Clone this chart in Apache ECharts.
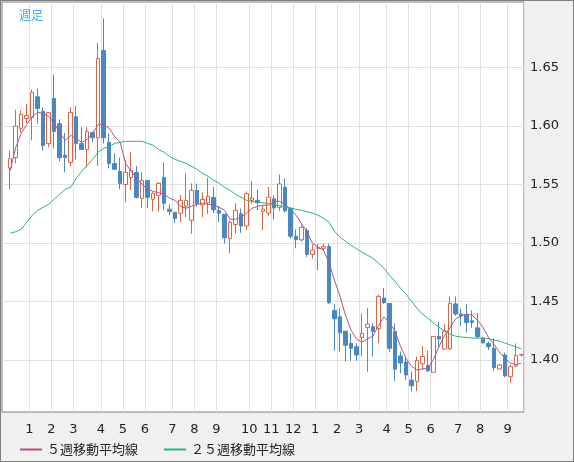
<!DOCTYPE html>
<html><head><meta charset="utf-8">
<script src="https://cdn.jsdelivr.net/npm/echarts@6/dist/echarts.min.js"></script>
<style>html,body{margin:0;padding:0;background:#f0f0f0}
#c{width:572px;height:460px;border:1px solid #808080;background:#f0f0f0}</style>
</head><body><div id="c"></div>
<script>
// [open, close, low, high]
const candles = [
[1.564,1.572,1.546,1.579],[1.573,1.600,1.568,1.614],[1.598,1.610,1.5945,1.6133],[1.6065,1.609,1.6025,1.619],
[1.6073,1.6287,1.5877,1.631],[1.625,1.615,1.602,1.632],[1.6125,1.5834,1.579,1.616],[1.585,1.6116,1.582,1.612],
[1.6236,1.5954,1.581,1.644],[1.602,1.573,1.5698,1.6057],[1.575,1.5732,1.5604,1.594],[1.569,1.6116,1.5655,1.616],
[1.608,1.585,1.5715,1.617],[1.585,1.580,1.580,1.599],[1.580,1.5954,1.5646,1.599],[1.5945,1.590,1.586,1.595],
[1.590,1.6577,1.566,1.671],[1.6645,1.590,1.585,1.692],[1.586,1.568,1.5638,1.5937],[1.568,1.563,1.563,1.5766],
[1.5612,1.551,1.546,1.573],[1.550,1.5604,1.5348,1.5706],[1.556,1.562,1.545,1.5775],[1.5604,1.539,1.538,1.566],
[1.5382,1.5535,1.530,1.5604],[1.5535,1.539,1.5297,1.5535],[1.5374,1.5425,1.527,1.5434],[1.5408,1.551,1.527,1.552],
[1.556,1.534,1.528,1.569],[1.5289,1.527,1.5237,1.533],[1.5263,1.521,1.517,1.526],[1.5255,1.5365,1.518,1.541],
[1.5314,1.5365,1.522,1.5595],[1.5195,1.545,1.508,1.551],[1.545,1.5337,1.531,1.5508],[1.5325,1.5373,1.522,1.5433],
[1.5343,1.540,1.525,1.5555],[1.539,1.5285,1.5257,1.5478],[1.5277,1.5255,1.518,1.5317],[1.5247,1.5045,1.4997,1.5247],
[1.5037,1.5177,1.4912,1.5195],[1.5157,1.528,1.508,1.534],[1.525,1.5146,1.5087,1.5294],[1.5146,1.5422,1.511,1.5442],
[1.5365,1.5385,1.5337,1.553],[1.5365,1.5345,1.528,1.5457],[1.527,1.529,1.511,1.5322],[1.5257,1.5393,1.5232,1.548],
[1.5377,1.530,1.5203,1.5408],[1.5305,1.5505,1.5275,1.5586],[1.5477,1.5275,1.5262,1.5553],[1.5297,1.5058,1.5037,1.5308],
[1.5058,1.503,1.4955,1.5115],[1.5027,1.5132,1.5013,1.516],[1.5108,1.4903,1.488,1.5128],[1.4903,1.494,1.4867,1.499],
[1.4955,1.496,1.4768,1.4995],[1.4955,1.497,1.494,1.4995],[1.497,1.449,1.448,1.4995],[1.4424,1.4353,1.408,1.448],
[1.437,1.4233,1.4073,1.4444],[1.4247,1.4127,1.3986,1.4247],[1.4143,1.410,1.3995,1.4228],[1.4114,1.4043,1.3995,1.4143],
[1.4194,1.4228,1.403,1.4398],[1.4279,1.4308,1.390,1.4444],[1.4285,1.4245,1.403,1.4313],[1.4268,1.4544,1.4145,1.4558],
[1.4530,1.449,1.448,1.4615],[1.4484,1.4100,1.4066,1.4484],[1.4245,1.3922,1.382,1.4313],[1.4035,1.3975,1.3888,1.4073],
[1.3984,1.3872,1.383,1.403],[1.3829,1.378,1.373,1.390],[1.3818,1.3997,1.3735,1.403],[1.3968,1.403,1.3916,1.412],
[1.3954,1.391,1.3896,1.408],[1.3896,1.4202,1.3896,1.4202],[1.4202,1.418,1.4108,1.4325],[1.4094,1.4247,1.4085,1.4307],
[1.4097,1.4484,1.4085,1.4544],[1.448,1.4394,1.4378,1.4544],[1.4394,1.4378,1.429,1.4437],[1.4385,1.432,1.4235,1.448],
[1.4335,1.432,1.4275,1.4424],[1.4275,1.420,1.4184,1.4398],[1.4184,1.4147,1.4142,1.4198],[1.4142,1.4114,1.4085,1.4156],
[1.410,1.3935,1.3908,1.4184],[1.3924,1.3958,1.3924,1.3967],[1.4043,1.3866,1.3852,1.4063],[1.3858,1.3943,1.3807,1.3958],
[1.3949,1.4040,1.3938,1.4142],[1.4043,1.4048,1.403,1.4048]
];
const ma5 = [1.5621,1.5818,1.5937,1.6014,1.6082,1.6116,1.6108,1.6082,1.6022,1.5946,1.5877,1.5920,1.5894,1.5860,1.5886,1.5937,
1.6014,1.6014,1.5980,1.5911,1.5860,1.5681,1.5613,1.5553,1.5502,1.5459,1.5442,1.5430,1.5417,1.5383,1.5365,1.5314,
1.5297,1.5314,1.5331,1.5340,1.5331,1.5323,1.5306,1.5280,1.5203,1.5203,1.5220,1.5255,1.5297,1.5314,1.5323,1.5323,
1.5357,1.5357,1.5331,1.5289,1.5238,1.5169,1.5093,1.4999,1.4965,1.4939,1.4836,1.4683,1.4547,1.4385,1.4257,1.4180,
1.4154,1.4180,1.4205,1.4291,1.4367,1.4325,1.4248,1.4120,1.4018,1.3950,1.3915,1.3924,1.3933,1.4001,1.4112,1.4205,
1.4274,1.4350,1.4376,1.4393,1.4385,1.4342,1.4282,1.4197,1.4137,1.4069,1.4018,1.3975,1.3958,1.3975];
const ma25 = [1.5084,1.5097,1.5118,1.5178,1.5238,1.5280,1.5306,1.5331,1.5374,1.5417,1.5459,1.5476,1.5553,1.5613,1.5664,1.5715,
1.5775,1.5809,1.5826,1.5852,1.5860,1.5869,1.5869,1.5869,1.5869,1.5852,1.5835,1.5800,1.5775,1.5741,1.5715,1.5698,
1.5681,1.5656,1.5630,1.5596,1.5570,1.5536,1.5511,1.5476,1.5451,1.5417,1.5391,1.5365,1.5357,1.5348,1.5344,1.5336,
1.5331,1.5319,1.5306,1.5297,1.5289,1.5280,1.5267,1.5255,1.5238,1.5212,1.5178,1.5101,1.5050,1.5016,1.4982,1.4952,
1.4922,1.4896,1.4871,1.4828,1.4785,1.4726,1.4675,1.4615,1.4564,1.4504,1.4444,1.4393,1.4359,1.4316,1.4282,1.4248,
1.4222,1.4205,1.4197,1.4193,1.4188,1.4188,1.4188,1.4184,1.4171,1.4163,1.4146,1.4129,1.4112,1.4095];
const monthIdx = [5,9,13,18,22,26,31,35,39,45,49,53,57,61,65,70,74,78,83,87,92];
const monthLabels = ['1','2','3','4','5','6','7','8','9','10','11','12','1','2','3','4','5','6','7','8','9'];
const yTicks = [1.40,1.45,1.50,1.55,1.60,1.65];

const N = candles.length + 1;
const cats = [];
for (let i = 0; i < N; i++) { const m = monthIdx.indexOf(i); cats.push(m >= 0 ? monthLabels[m] : ''); }
const pad = a => ['-'].concat(a);
const isMonth = (i) => monthIdx.indexOf(i) >= 0;

const chart = echarts.init(document.getElementById('c'));
chart.setOption({
  animation: false,
  backgroundColor: '#f0f0f0',
  title: { text: '週足', left: 13, top: 3, textStyle: { color: '#3aaee0', fontSize: 12, fontWeight: 'normal', fontFamily: 'Noto Sans CJK JP' } },
  grid: { left: 1, top: 1, right: 49, bottom: 49, show: true, backgroundColor: '#fff', borderColor: '#808080', borderWidth: 1 },
  legend: {
    left: 14, top: 437, itemWidth: 22, itemHeight: 2, itemGap: 26,
    textStyle: { fontSize: 13, color: '#222', fontFamily: 'Noto Sans CJK JP' },
    data: [{ name: '５週移動平均線', icon: 'rect' }, { name: '２５週移動平均線', icon: 'rect' }]
  },
  xAxis: {
    type: 'category', data: cats, boundaryGap: true,
    axisLine: { show: false }, axisTick: { show: false },
    axisLabel: { interval: (i) => isMonth(i), color: '#222', fontSize: 13, margin: 11, padding: [0, 5.5, 0, 0], fontFamily: 'DejaVu Sans' },
    splitLine: { show: true, interval: (i) => isMonth(i), lineStyle: { color: '#e0e0e0' } }
  },
  yAxis: {
    type: 'value', position: 'right', min: 1.3556, max: 1.706, scale: true,
    axisLine: { show: false }, axisTick: { show: false }, splitLine: { show: false },
    axisLabel: { customValues: yTicks, formatter: v => v.toFixed(2), color: '#222', fontSize: 13, margin: 6, fontFamily: 'DejaVu Sans' }
  },
  series: [
    { type: 'candlestick', name: 'price', data: pad(candles), barWidth: 4, z: 3,
      itemStyle: { color: '#ffffff', color0: '#4a88c2', borderColor: '#dc6444', borderColor0: '#4a88c2', borderWidth: 1 },
      markLine: { silent: true, symbol: 'none', label: { show: false }, z: 1,
        lineStyle: { color: '#e0e0e0', type: 'solid', width: 1 },
        data: yTicks.map(v => ({ yAxis: v })) } },
    { type: 'line', name: '５週移動平均線', data: pad(ma5), showSymbol: false, z: 4,
      lineStyle: { color: '#b0558a', width: 1 }, itemStyle: { color: '#b0558a' } },
    { type: 'line', name: '２５週移動平均線', data: pad(ma25), showSymbol: false, z: 4,
      lineStyle: { color: '#2cb47a', width: 1 }, itemStyle: { color: '#2cb47a' } }
  ]
});
</script></body></html>
